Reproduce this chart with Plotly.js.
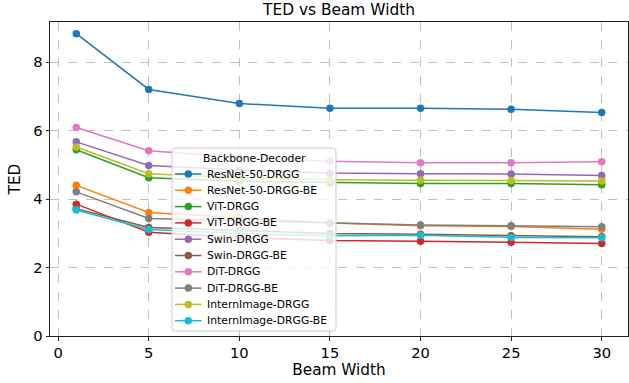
<!DOCTYPE html>
<html>
<head>
<meta charset="utf-8">
<script src="https://cdn.plot.ly/plotly-3.0.1.min.js"></script>
<style>html,body{margin:0;padding:0;background:#fff;}#chart{width:629px;height:383px;}</style>
</head>
<body>
<div id="chart"></div>
<script>
const beamWidths = [1, 5, 10, 15, 20, 25, 30];
const seriesNames = ["ResNet-50-DRGG", "ResNet-50-DRGG-BE", "ViT-DRGG", "ViT-DRGG-BE", "Swin-DRGG", "Swin-DRGG-BE", "DiT-DRGG", "DiT-DRGG-BE", "InternImage-DRGG", "InternImage-DRGG-BE"];
const resnetDRGG     = [8.83, 7.20, 6.79, 6.65, 6.65, 6.62, 6.53];
const resnetDRGGBE   = [4.40, 3.61, 3.45, 3.30, 3.22, 3.20, 3.12];
const vitDRGG        = [5.44, 4.62, 4.52, 4.48, 4.45, 4.45, 4.42];
const vitDRGGBE      = [3.85, 3.03, 2.88, 2.79, 2.77, 2.74, 2.70];
const swinDRGG       = [5.67, 4.98, 4.85, 4.76, 4.74, 4.73, 4.69];
const swinDRGGBE     = [3.72, 3.17, 3.08, 2.99, 2.97, 2.93, 2.90];
const ditDRGG        = [6.09, 5.41, 5.22, 5.10, 5.06, 5.06, 5.09];
const ditDRGGBE      = [4.21, 3.43, 3.37, 3.30, 3.24, 3.22, 3.19];
const internDRGG     = [5.52, 4.74, 4.62, 4.56, 4.55, 4.54, 4.53];
const internDRGGBE   = [3.68, 3.11, 2.99, 2.93, 2.94, 2.88, 2.87];
const seriesValues = [resnetDRGG, resnetDRGGBE, vitDRGG, vitDRGGBE, swinDRGG, swinDRGGBE, ditDRGG, ditDRGGBE, internDRGG, internDRGGBE];
const colors = ["#1f77b4", "#ff7f0e", "#2ca02c", "#d62728", "#9467bd", "#8c564b", "#e377c2", "#7f7f7f", "#bcbd22", "#17becf"];
const legendTitle = "Backbone-Decoder";

const W = 629, H = 383;
const M = {l: 50, r: 1, t: 22, b: 47};
const pw = W - M.l - M.r, ph = H - M.t - M.b;
const px = x => (x - M.l) / pw;          // pixel -> paper x
const py = y => (H - M.b - y) / ph;      // pixel -> paper y

const traces = seriesNames.map((name, i) => ({
  x: beamWidths, y: seriesValues[i], name: name, type: "scatter", mode: "lines+markers",
  line: {color: colors[i], width: 1.5}, marker: {color: colors[i], size: 7.5},
  showlegend: false
}));

// custom legend (matplotlib-like compact layout)
const shapes = [];
const annotations = [];
const bx0 = 172, bx1 = 336, by0 = 148, by1 = 331, rr = 3;
shapes.push({
  type: "path", xref: "paper", yref: "paper", layer: "above",
  path: (() => {
    const X = v => px(v), Y = v => py(v);
    const rx = rr / pw, ry = rr / ph;
    const x0 = X(bx0), x1 = X(bx1), yT = Y(by0), yB = Y(by1);
    return `M${x0 + rx},${yT} L${x1 - rx},${yT} Q${x1},${yT} ${x1},${yT - ry} L${x1},${yB + ry} Q${x1},${yB} ${x1 - rx},${yB} L${x0 + rx},${yB} Q${x0},${yB} ${x0},${yB + ry} L${x0},${yT - ry} Q${x0},${yT} ${x0 + rx},${yT} Z`;
  })(),
  fillcolor: "rgba(255,255,255,0.8)", line: {color: "#cccccc", width: 1}
});
annotations.push({
  xref: "paper", yref: "paper", x: px(254), y: py(158), xanchor: "center", yanchor: "middle",
  text: legendTitle, showarrow: false, font: {size: 10.8, color: "#000"}
});
seriesNames.forEach((name, i) => {
  const yc = 174 + i * 16.3;
  shapes.push({type: "line", xref: "paper", yref: "paper", layer: "above",
    x0: px(175), x1: px(201.5), y0: py(yc), y1: py(yc), line: {color: colors[i], width: 1.5}});
  shapes.push({type: "circle", xref: "paper", yref: "paper", layer: "above",
    xsizemode: "pixel", ysizemode: "pixel", xanchor: px(188.3), yanchor: py(yc),
    x0: -3.75, x1: 3.75, y0: -3.75, y1: 3.75,
    fillcolor: colors[i], line: {color: colors[i], width: 0}});
  annotations.push({xref: "paper", yref: "paper", x: px(204.8), y: py(yc), xanchor: "left", yanchor: "middle",
    text: name, showarrow: false, font: {size: 10.8, color: "#000"}});
});

const font = "DejaVu Sans, sans-serif";
const layout = {
  width: W, height: H,
  margin: M,
  paper_bgcolor: "#fff", plot_bgcolor: "#fff",
  font: {family: font, color: "#000", size: 14.7},
  showlegend: false,
  title: {text: "TED vs Beam Width", font: {size: 15.4}, x: px(339), xref: "paper", xanchor: "center", y: 1 - 10 / H, yanchor: "middle"},
  xaxis: {
    range: [-0.45, 31.45], tickvals: [0, 5, 10, 15, 20, 25, 30],
    title: {text: "Beam Width", font: {size: 15.3}, standoff: 3},
    showline: true, mirror: true, linecolor: "#222", linewidth: 1,
    ticks: "outside", ticklen: 3.5, tickcolor: "#222",
    showgrid: true, gridcolor: "#b0b0b0", griddash: "dash", gridwidth: 0.8, zeroline: false
  },
  yaxis: {
    range: [0, 9.17], tickvals: [0, 2, 4, 6, 8],
    title: {text: "TED", font: {size: 15.3}, standoff: 8},
    showline: true, mirror: true, linecolor: "#222", linewidth: 1,
    ticks: "outside", ticklen: 3.5, tickcolor: "#222",
    showgrid: true, gridcolor: "#b0b0b0", griddash: "dash", gridwidth: 0.8, zeroline: false
  },
  shapes: shapes,
  annotations: annotations
};
Plotly.newPlot("chart", traces, layout, {displayModeBar: false, staticPlot: true});
</script>
</body>
</html>
